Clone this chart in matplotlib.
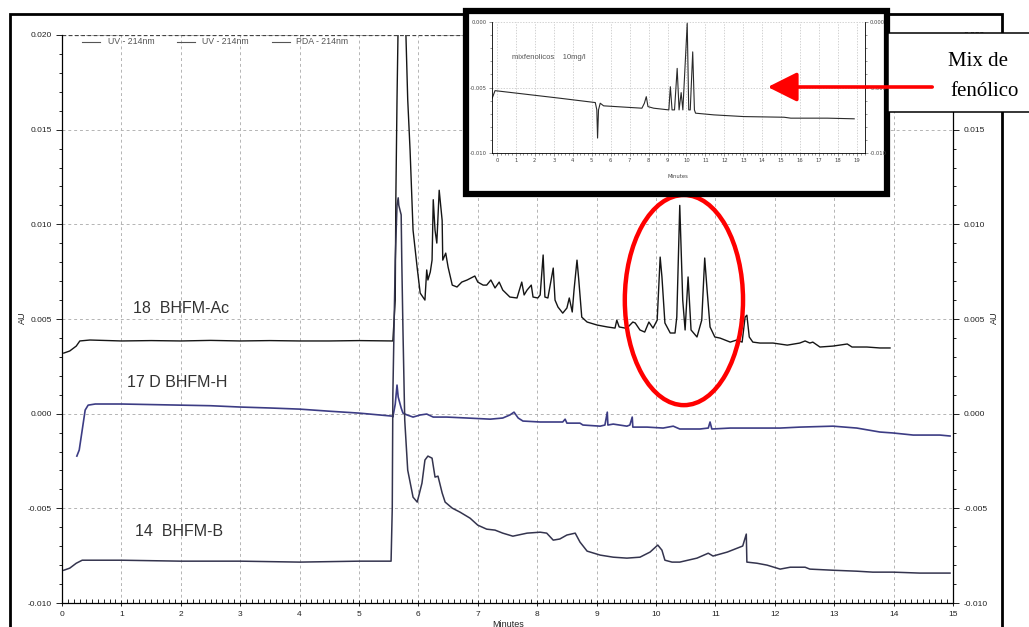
import matplotlib.pyplot as plt
import numpy as np
from matplotlib.patches import Rectangle, Ellipse, FancyArrowPatch
from matplotlib.lines import Line2D
from matplotlib.ticker import MultipleLocator, FormatStrFormatter

# --- data (minutes, mAU) ---
ac_t = [0.03, 0.13, 0.24, 0.30, 0.47, 1.0, 1.5, 2.0, 2.5, 3.0, 3.5, 4.0, 4.5, 5.0, 5.57,
        5.61, 5.62, 5.64, 5.66, 5.69, 5.74, 5.79, 5.82, 5.86, 5.91, 5.98, 6.03, 6.11, 6.14,
        6.16, 6.20, 6.23, 6.25, 6.28, 6.31, 6.35, 6.40, 6.41, 6.46, 6.50, 6.57, 6.65, 6.73,
        6.82, 6.95, 7.00, 7.09, 7.15, 7.22, 7.29, 7.36, 7.42, 7.54, 7.66, 7.74, 7.78, 7.83,
        7.90, 7.93, 8.01, 8.05, 8.10, 8.13, 8.18, 8.27, 8.30, 8.35, 8.43, 8.50, 8.54, 8.59,
        8.62, 8.67, 8.70, 8.75, 8.84, 9.01, 9.18, 9.31, 9.34, 9.38, 9.48, 9.53, 9.61, 9.65,
        9.73, 9.81, 9.88, 9.95, 10.02, 10.07, 10.10, 10.15, 10.24, 10.32, 10.35, 10.40, 10.45,
        10.49, 10.54, 10.59, 10.69, 10.77, 10.82, 10.86, 10.91, 10.99, 11.08, 11.16, 11.25,
        11.36, 11.45, 11.50, 11.53, 11.57, 11.63, 11.75, 11.97, 12.21, 12.42, 12.51, 12.59,
        12.64, 12.76, 12.98, 13.22, 13.30, 13.55, 13.77, 13.94]
ac_mau = [3.20, 3.31, 3.57, 3.84, 3.89, 3.84, 3.86, 3.84, 3.87, 3.84, 3.86, 3.84, 3.84, 3.86, 3.84,
          6.0, 11.3, 16.6, 20.8, 24.5, 21.8, 20.0, 16.6, 13.9, 9.69, 7.69, 6.37, 6.00, 7.59,
          7.06, 7.48, 8.11, 11.3, 9.69, 9.01, 11.8, 10.2, 8.11, 8.48, 7.74, 6.79, 6.69, 6.95,
          7.06, 7.27, 6.95, 6.79, 6.79, 7.06, 6.64, 6.95, 6.53, 6.16, 6.11, 6.95, 6.27, 6.53,
          6.79, 6.16, 6.11, 6.27, 8.38, 6.16, 6.11, 7.69, 6.00, 5.63, 5.31, 5.58, 6.11, 5.37,
          6.53, 8.11, 7.06, 5.10, 4.84, 4.68, 4.58, 4.52, 4.94, 4.58, 4.52, 4.58, 4.84, 4.79,
          4.42, 4.31, 4.84, 4.52, 4.94, 8.27, 7.22, 4.79, 4.26, 4.26, 5.10, 11.0, 6.00,
          4.42, 7.22, 4.42, 4.05, 4.94, 8.22, 6.53, 4.58, 4.05, 3.99, 3.89, 3.78,
          3.89, 3.78, 5.10, 5.20, 4.05, 3.78, 3.73, 3.73, 3.62, 3.73, 3.84, 3.73,
          3.78, 3.52, 3.57, 3.68, 3.52, 3.52, 3.47, 3.47]

h_t = [0.25, 0.29, 0.34, 0.39, 0.44, 0.56, 1.0, 1.5, 2.0, 2.5, 3.0, 3.5, 4.0, 4.5, 5.0, 5.35,
       5.56, 5.57, 5.61, 5.64, 5.66, 5.71, 5.74, 5.81, 5.91, 6.03, 6.14, 6.25, 6.48, 6.82, 7.21,
       7.42, 7.54, 7.61, 7.68, 7.76, 8.05, 8.43, 8.47, 8.50, 8.72, 8.77, 9.06, 9.14, 9.18, 9.19,
       9.28, 9.51, 9.56, 9.60, 9.61, 9.85, 10.12, 10.29, 10.40, 10.74, 10.88, 10.91, 10.94,
       11.25, 12.09, 12.42, 12.98, 13.38, 13.77, 13.99, 14.33, 14.78, 14.95]
h_mau = [-2.24, -1.92, -0.87, 0.19, 0.45, 0.51, 0.51, 0.48, 0.45, 0.42, 0.35, 0.30, 0.24, 0.13, 0.03, -0.07,
         -0.13, -0.18, 0.50, 1.51, 0.88, 0.30, 0.03, -0.07, -0.18, -0.07, -0.02, -0.18, -0.18, -0.23, -0.29,
         -0.23, -0.07, 0.08, -0.23, -0.39, -0.44, -0.44, -0.29, -0.50, -0.50, -0.60, -0.66, -0.60, 0.08, -0.60,
         -0.55, -0.66, -0.60, -0.18, -0.71, -0.71, -0.76, -0.66, -0.81, -0.81, -0.76, -0.44, -0.81,
         -0.76, -0.76, -0.71, -0.66, -0.76, -0.97, -1.02, -1.13, -1.13, -1.18]

b_t = [0.03, 0.13, 0.24, 0.34, 1.0, 2.0, 3.0, 4.0, 5.0, 5.54, 5.56, 5.57, 5.61, 5.64, 5.66, 5.67,
       5.71, 5.72, 5.74, 5.77, 5.82, 5.91, 5.98, 6.06, 6.11, 6.16, 6.23, 6.28, 6.33, 6.40, 6.45,
       6.57, 6.70, 6.87, 7.00, 7.15, 7.29, 7.42, 7.59, 7.83, 8.05, 8.16, 8.27, 8.38, 8.50, 8.64,
       8.72, 8.84, 9.06, 9.28, 9.51, 9.73, 9.90, 10.03, 10.10, 10.15, 10.27, 10.40, 10.69, 10.88,
       10.96, 11.20, 11.46, 11.52, 11.53, 11.70, 11.87, 12.09, 12.26, 12.51, 12.59, 12.98, 13.38,
       13.65, 13.99, 14.44, 14.78, 14.95]
b_mau = [-8.27, -8.16, -7.90, -7.74, -7.74, -7.79, -7.79, -7.84, -7.79, -7.79, -5.0, 1.0, 8.11, 11.0, 11.4, 11.0,
         10.5, 8.11, 4.42, -0.34, -2.98, -4.41, -4.67, -3.67, -2.45, -2.24, -2.35, -3.35, -3.30, -4.19, -4.67,
         -4.99, -5.20, -5.52, -5.89, -6.10, -6.15, -6.31, -6.47, -6.31, -6.26, -6.31, -6.68, -6.62, -6.41, -6.31,
         -6.78, -7.26, -7.47, -7.58, -7.63, -7.58, -7.31, -6.94, -7.21, -7.74, -7.84, -7.84, -7.63, -7.37,
         -7.52, -7.31, -6.99, -6.36, -7.84, -7.90, -8.00, -8.21, -8.11, -8.11, -8.21, -8.27, -8.32,
         -8.37, -8.37, -8.42, -8.42, -8.42]

mix_t = [-0.25, -0.10, 3.33, 5.19, 5.27, 5.31, 5.36, 5.45, 5.63, 7.65, 7.78, 7.88, 7.97, 8.27,
         9.07, 9.15, 9.24, 9.37, 9.51, 9.61, 9.72, 9.81, 10.04, 10.12, 10.20, 10.33, 10.42,
         10.48, 11.45, 13.03, 15.15, 15.50, 17.44, 18.85]
mix_mau = [-5.82, -5.24, -5.82, -6.15, -6.71, -8.86, -6.71, -6.20, -6.40, -6.58, -6.20, -5.70, -6.46, -6.58,
           -6.71, -4.94, -6.71, -6.71, -3.54, -6.71, -5.39, -6.71, -0.10, -6.71, -6.71, -2.28, -6.71,
           -6.96, -7.09, -7.22, -7.27, -7.34, -7.34, -7.39]

legend_names = ['UV - 214nm', 'UV - 214nm', 'PDA - 214nm']
trace_labels = ['18  BHFM-Ac', '17 D BHFM-H', '14  BHFM-B']

W, H = 1029, 627


def fx(px):
    return px / W


def fy(py):
    return 1 - py / H


fig = plt.figure(figsize=(W / 100, H / 100), dpi=100)
fig.patch.set_facecolor('white')

# main chromatogram
ax = fig.add_axes([fx(62), fy(603), fx(953) - fx(62), fy(35) - fy(603)])
ax.set_xlim(0, 15)
ax.set_ylim(-0.010, 0.020)
ax.plot(ac_t, np.array(ac_mau) / 1000, color='#151515', lw=1.0)
ax.plot(h_t, np.array(h_mau) / 1000, color='#3c3c84', lw=1.2)
ax.plot(b_t, np.array(b_mau) / 1000, color='#34344e', lw=1.1)

ax.xaxis.set_major_locator(MultipleLocator(1))
ax.xaxis.set_minor_locator(MultipleLocator(0.1))
ax.yaxis.set_major_locator(MultipleLocator(0.005))
ax.yaxis.set_minor_locator(MultipleLocator(0.001))
ax.yaxis.set_major_formatter(FormatStrFormatter('%.3f'))
ax.grid(True, which='major', color='#b4b4b4', ls=(0, (3, 3)), lw=0.7)
ax.axhline(0.020, color='#444444', ls=(0, (3, 2)), lw=0.9)
ax.spines['top'].set_visible(False)
for s in ['left', 'right', 'bottom']:
    ax.spines[s].set_linewidth(0.9)
ax.tick_params(axis='both', which='both', labelsize=6, colors='#222222',
               right=True, labelright=True, width=0.7)
ax.tick_params(axis='y', which='major', length=4, direction='out')
ax.tick_params(axis='y', which='minor', length=2.5, direction='out')
ax.tick_params(axis='x', which='major', length=5, direction='inout')
ax.tick_params(axis='x', which='minor', length=3, direction='in')
for lab in ax.get_xticklabels() + ax.get_yticklabels():
    lab.set_family('Liberation Sans')

ax.text(1.20, 0.00558, trace_labels[0], fontsize=11.5, family='Liberation Sans',
        color='#333333', va='center')
ax.text(1.10, 0.00162, trace_labels[1], fontsize=11.5, family='Liberation Sans',
        color='#333333', va='center')
ax.text(1.23, -0.00625, trace_labels[2], fontsize=11.5, family='Liberation Sans',
        color='#333333', va='center')

ax.add_patch(Ellipse((10.47, 0.0060), 1.99, 0.0111, fill=False, edgecolor='#ff0000',
                     lw=3.2, clip_on=False, zorder=5))

fig.text(fx(22), fy(318), 'AU', rotation=90, ha='center', va='center', fontsize=6.5,
         family='Liberation Sans', color='#222222')
fig.text(fx(994), fy(318), 'AU', rotation=90, ha='center', va='center', fontsize=6.5,
         family='Liberation Sans', color='#222222')
fig.text(fx(508), fy(620), 'Minutes', ha='center', va='top', fontsize=6.5,
         family='Liberation Sans', color='#222222')

# legend strip along the top
leg_x = [(82, 100, 108), (177, 195, 202), (272, 290, 296)]
for (x0, x1, xt), name in zip(leg_x, legend_names):
    fig.add_artist(Line2D([fx(x0), fx(x1)], [fy(42), fy(42)], transform=fig.transFigure,
                          color='#555555', lw=0.8))
    fig.text(fx(xt), fy(42), name, va='center', fontsize=6.3, family='Liberation Sans',
             color='#555555')

# outer page frame
fig.add_artist(Rectangle((fx(10), fy(660)), fx(1002) - fx(10), fy(14) - fy(660),
                         transform=fig.transFigure, fill=False, edgecolor='black', lw=2.0, zorder=3))

# inset with the phenolic mix chromatogram
fig.add_artist(Rectangle((fx(466), fy(194)), fx(887) - fx(466), fy(11) - fy(194),
                         transform=fig.transFigure, facecolor='white', edgecolor='black',
                         lw=4.5, zorder=5))
ins = fig.add_axes([fx(492), fy(153), fx(865) - fx(492), fy(22) - fy(153)], zorder=6)
ins.set_xlim(-0.26, 19.42)
ins.set_ylim(-0.010, 0.000)
ins.plot(mix_t, np.array(mix_mau) / 1000, color='#2a2a2a', lw=0.8)
ins.xaxis.set_major_locator(MultipleLocator(1))
ins.xaxis.set_minor_locator(MultipleLocator(0.2))
ins.yaxis.set_major_locator(MultipleLocator(0.005))
ins.yaxis.set_minor_locator(MultipleLocator(0.001))
ins.yaxis.set_major_formatter(FormatStrFormatter('%.3f'))
ins.grid(True, which='major', color='#c0c0c0', ls=(0, (2, 2)), lw=0.5)
ins.spines['top'].set_visible(False)
for s in ['left', 'right', 'bottom']:
    ins.spines[s].set_linewidth(0.6)
ins.tick_params(axis='both', which='both', labelsize=3.8, colors='#444444', width=0.4,
                right=True, labelright=True, pad=1.5)
ins.tick_params(which='major', length=2)
ins.tick_params(which='minor', length=1.2)
ins.text(0.8, -0.0027, 'mixfenolicos    10mg/l', fontsize=5.5, color='#555555',
         family='Liberation Sans', va='center')
fig.text(fx(678), fy(177), 'Minutes', ha='center', va='center', fontsize=3.8,
         color='#444444', zorder=7)

# callout box and arrow
fig.add_artist(Rectangle((fx(888), fy(112)), fx(1040) - fx(888), fy(33) - fy(112),
                         transform=fig.transFigure, facecolor='white', edgecolor='black',
                         lw=1.1, zorder=7))
fig.text(fx(978), fy(62), 'Mix de', ha='center', va='center', fontsize=15,
         family='Liberation Serif', color='black', zorder=8)
fig.text(fx(985), fy(92), 'fenólico', ha='center', va='center', fontsize=15,
         family='Liberation Serif', color='black', zorder=8)
fig.add_artist(FancyArrowPatch((fx(935), fy(87)), (fx(765), fy(87)), transform=fig.transFigure,
                               arrowstyle='-|>,head_length=0.9,head_width=0.45',
                               mutation_scale=20, color='#ff0000', lw=2.6, zorder=9))

fig.savefig('out.png', dpi=100)
